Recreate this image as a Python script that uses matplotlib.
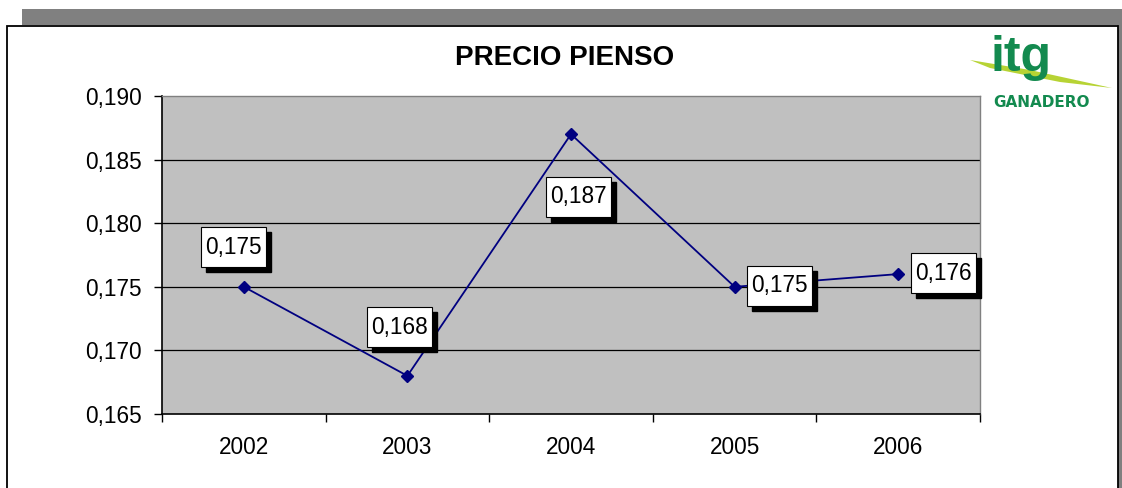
import matplotlib
matplotlib.use("Agg")
import matplotlib.pyplot as plt
from matplotlib.patches import Rectangle, Polygon
from matplotlib.transforms import ScaledTranslation
import matplotlib.ticker as mticker

plt.rcParams['font.family'] = ['Liberation Sans', 'DejaVu Sans']

years = ['2002', '2003', '2004', '2005', '2006']
prices = [0.175, 0.168, 0.187, 0.175, 0.176]
y_ticks = [0.165, 0.170, 0.175, 0.180, 0.185, 0.190]
title = 'PRECIO PIENSO'
# label box centre offsets from the point (pixels, y up)
label_offsets = [(-10, 39.5), (-8, 48.5), (7.5, -62.5), (45, 1), (45.5, 1)]

W, H = 1122, 488
DPI = 100
FS = 16.3
fig = plt.figure(figsize=(W / DPI, H / DPI), dpi=DPI)
fig.patch.set_facecolor('white')

def fx(px):
    return px / W

def fy(py):
    return 1 - py / H

# gray top band and right shadow
fig.patches.append(Rectangle((fx(22), fy(25)), fx(1122) - fx(22), fy(9) - fy(25),
                             transform=fig.transFigure, facecolor='#808080', edgecolor='none', zorder=-3))
fig.patches.append(Rectangle((fx(1117), fy(490)), fx(1122) - fx(1117), fy(25) - fy(490),
                             transform=fig.transFigure, facecolor='#808080', edgecolor='none', zorder=-3))
# outer frame
fig.patches.append(Rectangle((fx(6.5), fy(492)), fx(1117.5) - fx(6.5), fy(25.5) - fy(492),
                             transform=fig.transFigure, facecolor='white', edgecolor='black',
                             linewidth=1.3, zorder=-2))

left, right, top, bottom = 162, 980, 96, 414
ax = fig.add_axes([fx(left), fy(bottom), fx(right) - fx(left), fy(top) - fy(bottom)])
ax.set_facecolor('#C0C0C0')

x = list(range(len(years)))
ax.set_xlim(-0.5, len(years) - 0.5)
ax.set_ylim(y_ticks[0], y_ticks[-1])

for yv in y_ticks[1:-1]:
    ax.axhline(yv, color='black', linewidth=0.9, zorder=1)

ax.plot(x, prices, color='#000080', linewidth=1.3, marker='D', markersize=6.5,
        markerfacecolor='#000080', markeredgecolor='#000080', zorder=3)

for s in ['top', 'right']:
    ax.spines[s].set_color('#808080')
    ax.spines[s].set_linewidth(1.0)
for s in ['left', 'bottom']:
    ax.spines[s].set_color('black')
    ax.spines[s].set_linewidth(1.2)

ax.set_yticks(y_ticks)
ax.set_yticklabels([f'{v:.3f}'.replace('.', ',') for v in y_ticks])
ax.tick_params(axis='y', length=6, width=1, pad=8.5, labelsize=FS, direction='out')

ax.set_xticks(x)
ax.set_xticklabels(years)
ax.xaxis.set_minor_locator(mticker.FixedLocator([i - 0.5 for i in range(len(years) + 1)]))
ax.tick_params(axis='x', which='major', length=0, pad=15.5, labelsize=FS)
ax.tick_params(axis='x', which='minor', length=6, width=1, direction='out')

# data labels with shadows
bw, bh = 65, 40
for xi, yi, (dx, dy) in zip(x, prices, label_offsets):
    tr = fig.dpi_scale_trans + ScaledTranslation(xi, yi, ax.transData)
    cx, cy = dx / DPI, dy / DPI
    ax.add_patch(Rectangle((cx - bw / 2 / DPI + 5 / DPI, cy - bh / 2 / DPI - 5 / DPI), bw / DPI, bh / DPI,
                           transform=tr, facecolor='black', edgecolor='black', zorder=4, clip_on=False))
    ax.add_patch(Rectangle((cx - bw / 2 / DPI, cy - bh / 2 / DPI), bw / DPI, bh / DPI,
                           transform=tr, facecolor='white', edgecolor='black', linewidth=0.8,
                           zorder=5, clip_on=False))
    ax.text(cx, cy, f'{yi:.3f}'.replace('.', ','), transform=tr, ha='center', va='center',
            fontsize=FS, zorder=6, clip_on=False)

fig.text(fx(565), fy(58), title, ha='center', va='center', fontsize=20, fontweight='bold')

# logo
fig.patches.append(Polygon([(fx(970), fy(60)), (fx(1030), fy(70)), (fx(1112), fy(88)),
                            (fx(1060), fy(82)), (fx(990), fy(68))],
                           closed=True, transform=fig.transFigure, facecolor='#B7D334',
                           edgecolor='none', zorder=2))
fig.text(fx(1021), fy(58), 'itg', ha='center', va='center', fontsize=36, fontweight='bold',
         color='#138A4F', zorder=3, family='Liberation Sans')
fig.text(fx(1041), fy(102), 'GANADERO', ha='center', va='center', fontsize=11, fontweight='bold',
         color='#138A4F', zorder=3, family='DejaVu Sans')

fig.savefig('out.png', dpi=DPI)
